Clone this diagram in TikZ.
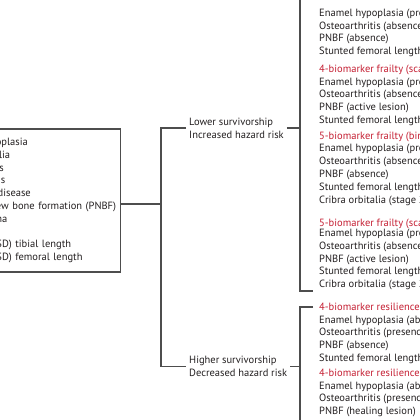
\documentclass[tikz,border=0pt]{standalone}
\usepackage{fontspec}
\setmainfont{PT Sans}
\usetikzlibrary{positioning,calc}
\definecolor{linegray}{HTML}{4D4D4D}
\definecolor{textdark}{HTML}{231F20}
\definecolor{redaccent}{HTML}{C41E32}

\begin{document}
\begin{tikzpicture}[x=1pt, y=-1pt,
  txt/.style={font=\fontsize{10.5}{12.8}\selectfont, text=textdark, align=left, inner sep=0pt},
  link/.style={draw=linegray, line width=1.1pt}]
  \useasboundingbox (0,0) rectangle (420,420);
  \clip (0,0) rectangle (420,420);
  % biomarker list
  \node[txt, link, anchor=east, text width=174pt, inner xsep=4pt, minimum height=143pt] (markers) at (121,200.5)
    {Enamel hypoplasia\\Cribra orbitalia\\Osteoarthritis\\Osteophytosis\\Periodontal disease\\Periosteal new bone formation (PNBF)\\Dental trauma\\[12.8pt]Stunted (-1 SD) tibial length\\Stunted (-1 SD) femoral length};
  \node[txt, anchor=west, inner xsep=3pt] (lower) at (186,128) {Lower survivorship\\Increased hazard risk};
  \node[txt, anchor=west, inner xsep=3pt] (higher) at (186,366.5) {Higher survivorship\\Decreased hazard risk};
  \coordinate (split) at (161,204);
  \draw[link] (markers.east |- split) -- (split);
  \draw[link] (lower.west) -| (split) |- (higher.west);
  % frailty and resilience groups
  \node[txt, anchor=north west] (frailA) at (319,8.6) {Enamel hypoplasia (presence)\\Osteoarthritis (absence)\\PNBF (absence)\\Stunted femoral length (presence)};
  \node[txt, anchor=north west] (frailB) at (319,64.6) {\textcolor{redaccent}{4-biomarker frailty (scaled)}\\Enamel hypoplasia (presence)\\Osteoarthritis (absence)\\PNBF (active lesion)\\Stunted femoral length (presence)};
  \node[txt, anchor=north west] (frailC) at (319,131.5) {\textcolor{redaccent}{5-biomarker frailty (binary)}\\Enamel hypoplasia (presence)\\Osteoarthritis (absence)\\PNBF (absence)\\Stunted femoral length (presence)\\Cribra orbitalia (stage 2 or 3)};
  \node[txt, anchor=north west] (frailD) at (319,218.6) {\textcolor{redaccent}{5-biomarker frailty (scaled)}\\[-2.5pt]Enamel hypoplasia (presence)\\Osteoarthritis (absence)\\PNBF (active lesion)\\Stunted femoral length (presence)\\Cribra orbitalia (stage 2 or 3)};
  \node[txt, anchor=north west] (resilA) at (319,302.6) {\textcolor{redaccent}{4-biomarker resilience (binary)}\\Enamel hypoplasia (absence)\\Osteoarthritis (presence)\\PNBF (absence)\\Stunted femoral length (absence)};
  \node[txt, anchor=north west] (resilB) at (319,368.6) {\textcolor{redaccent}{4-biomarker resilience (scaled)}\\Enamel hypoplasia (absence)\\Osteoarthritis (presence)\\PNBF (healing lesion)};
  \coordinate (ftop) at (300,-10);
  \coordinate (fbot) at (313,291);
  \coordinate (rtop) at (313,307);
  \coordinate (rbot) at (300,430);
  \draw[link] (ftop) |- (fbot);
  \draw[link] (rtop) -| (rbot);
  \draw[link] (lower.east) -- (lower.east -| ftop);
  \draw[link] (higher.east) -- (higher.east -| rbot);
\end{tikzpicture}
\end{document}
